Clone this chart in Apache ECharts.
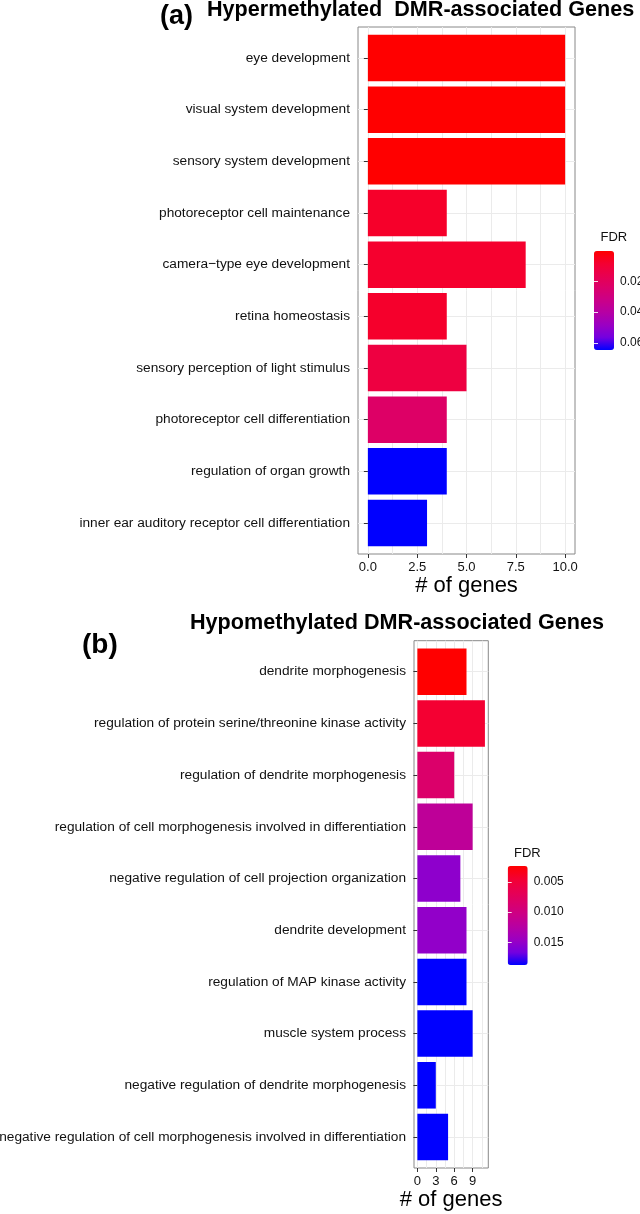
<!DOCTYPE html>
<html>
<head>
<meta charset="utf-8">
<script src="https://cdn.jsdelivr.net/npm/echarts@6/dist/echarts.min.js"></script>
<style>
html,body{margin:0;padding:0;background:#fff;}
#c{width:640px;height:1214px;}
</style>
</head>
<body>
<div id="c"></div>
<script>
// ---- data ----
const catsA = ['eye development','visual system development','sensory system development','photoreceptor cell maintenance','camera\u2212type eye development','retina homeostasis','sensory perception of light stimulus','photoreceptor cell differentiation','regulation of organ growth','inner ear auditory receptor cell differentiation'];
const countsA = [10,10,10,4,8,4,5,4,4,3];
const fdrA = [0.0003,0.0003,0.0003,0.0072,0.0078,0.0075,0.0125,0.0228,0.0646,0.0646];
const fdrRangeA = [0.0003,0.0646];
const fdrTicksA = [0.02,0.04,0.06];
const xTicksA = [0,2.5,5,7.5,10];
const xGridA = [0,1.25,2.5,3.75,5,6.25,7.5,8.75,10];

const catsB = ['dendrite morphogenesis','regulation of protein serine/threonine kinase activity','regulation of dendrite morphogenesis','regulation of cell morphogenesis involved in differentiation','negative regulation of cell projection organization','dendrite development','regulation of MAP kinase activity','muscle system process','negative regulation of dendrite morphogenesis','negative regulation of cell morphogenesis involved in differentiation'];
const countsB = [8,11,6,9,7,8,8,9,3,5];
const fdrB = [0.00238,0.0045,0.0084,0.0117,0.0153,0.0151,0.01877,0.01877,0.01877,0.01877];
const fdrRangeB = [0.00238,0.01877];
const fdrTicksB = [0.005,0.010,0.015];
const xTicksB = [0,3,6,9];
const xGridB = [0,1.5,3,4.5,6,7.5,9,10.5];

const grad = ['#FF0000','#F40031','#E80050','#DA006C','#CA0089','#B500A5','#9A00C3','#7300E0','#0000FF'];

// ---- layout ----
const FONT = 'Liberation Sans, Arial, Helvetica, sans-serif';
const TXT = '#111';
const GRIDC = '#EBEBEB';
const pA = {l:358, r:575, t:27, b:554};
const pB = {l:414, r:488.3, t:640.7, b:1168};
function inset(p){ const u=(p.b-p.t)/10.2; return {t:p.t+0.1*u, b:p.b-0.1*u}; }
const dA = inset(pA), dB = inset(pB);
const legA = {l:594, t:251, w:20, h:99};
const legB = {l:507.7, t:866, w:20, h:99};

const chart = echarts.init(document.getElementById('c'), null, {renderer:'canvas'});

function frameGrid(p){ return {left:p.l, top:p.t, width:p.r-p.l, height:p.b-p.t, show:true, borderColor:'#888', borderWidth:1, backgroundColor:'transparent', containLabel:false, outerBoundsMode:'none'}; }
function dataGrid(p,d){ return {left:p.l, top:d.t, width:p.r-p.l, height:d.b-d.t, show:false, containLabel:false, outerBoundsMode:'none'}; }
function legGrid(g){ return {left:g.l, top:g.t, width:g.w, height:g.h, show:false, containLabel:false, outerBoundsMode:'none'}; }

function mainX(gi, min, max, gridVals, labelVals, fmt, nameGap){
  return {type:'value', gridIndex:gi, min:min, max:max, position:'bottom',
    axisLine:{show:false},
    axisTick:{show:false, customValues:gridVals},
    splitLine:{show:true, lineStyle:{color:GRIDC, width:1}},
    axisLabel:{show:true, customValues:labelVals, formatter:fmt, fontSize:13, color:TXT, fontFamily:FONT, margin:7},
    name:'# of genes', nameLocation:'middle', nameGap:nameGap,
    nameTextStyle:{fontSize:22, color:'#000', fontFamily:FONT}};
}
function tickX(gi, min, max, vals){
  return {type:'value', gridIndex:gi, min:min, max:max, position:'bottom',
    axisLine:{show:false}, splitLine:{show:false}, axisLabel:{show:false},
    axisTick:{show:true, length:4, customValues:vals, lineStyle:{color:'#333'}}};
}
function hiddenX(gi,min,max){ return {type:'value', gridIndex:gi, min:min, max:max, show:false}; }
function hiddenY(gi){ return {type:'value', gridIndex:gi, min:0, max:1, show:false}; }
function catY(gi, cats){
  return {type:'category', gridIndex:gi, data:cats, inverse:true,
    axisLine:{show:false},
    axisTick:{show:true, length:4, alignWithLabel:true, lineStyle:{color:'#333'}},
    splitLine:{show:true, alignWithLabel:true, lineStyle:{color:GRIDC, width:1}},
    axisLabel:{show:true, interval:0, fontSize:13.7, color:TXT, fontFamily:FONT, margin:8}};
}
function legY(gi, range, ticks, pos, showLabel){
  return {type:'value', gridIndex:gi, min:range[0], max:range[1], inverse:true, position:pos, z:10,
    axisLine:{show:false}, splitLine:{show:false},
    axisTick:{show:true, inside:true, length:4, customValues:ticks, lineStyle:{color:'rgba(255,255,255,0.85)', width:1}},
    axisLabel:{show:showLabel, customValues:ticks, fontSize:12, color:TXT, fontFamily:FONT, margin:6,
      formatter: v => ticks[0] < 0.01 ? v.toFixed(3) : v.toFixed(2)}};
}

const option = {
  backgroundColor:'#fff',
  animation:false,
  textStyle:{fontFamily:FONT},
  title:[
    {text:'(a)', left:160, top:3, padding:0, textStyle:{fontSize:27, fontWeight:'bold', color:'#000', fontFamily:FONT}},
    {text:'Hypermethylated  DMR-associated Genes', left:207, top:-1, padding:0, textStyle:{fontSize:21.6, fontWeight:'bold', color:'#000', fontFamily:FONT}},
    {text:'(b)', left:82, top:631, padding:0, textStyle:{fontSize:28, fontWeight:'bold', color:'#000', fontFamily:FONT}},
    {text:'Hypomethylated DMR-associated Genes', left:190, top:612, padding:0, textStyle:{fontSize:21.6, fontWeight:'bold', color:'#000', fontFamily:FONT}},
    {text:'FDR', left:600.5, top:231, padding:0, textStyle:{fontSize:13, fontWeight:'normal', color:TXT, fontFamily:FONT}},
    {text:'FDR', left:514, top:846.5, padding:0, textStyle:{fontSize:13, fontWeight:'normal', color:TXT, fontFamily:FONT}}
  ],
  grid:[frameGrid(pA), dataGrid(pA,dA), frameGrid(pB), dataGrid(pB,dB), legGrid(legA), legGrid(legB)],
  xAxis:[
    mainX(0,-0.5,10.5,xGridA,xTicksA,v=>v.toFixed(1),20),
    tickX(0,-0.5,10.5,xTicksA),
    hiddenX(1,-0.5,10.5),
    mainX(2,-0.55,11.55,xGridB,xTicksB,v=>String(v),20),
    tickX(2,-0.55,11.55,xTicksB),
    hiddenX(3,-0.55,11.55),
    hiddenX(4,0,1),
    hiddenX(5,0,1)
  ],
  yAxis:[
    hiddenY(0),
    catY(1,catsA),
    hiddenY(2),
    catY(3,catsB),
    legY(4,fdrRangeA,fdrTicksA,'right',true),
    legY(4,fdrRangeA,fdrTicksA,'left',false),
    legY(5,fdrRangeB,fdrTicksB,'right',true),
    legY(5,fdrRangeB,fdrTicksB,'left',false)
  ],
  visualMap:[
    {type:'continuous', seriesIndex:0, dimension:2, min:fdrRangeA[0], max:fdrRangeA[1], inverse:true, calculable:false,
     orient:'vertical', left:legA.l, top:legA.t, itemWidth:legA.w, itemHeight:legA.h, padding:0, hoverLink:false,
     inRange:{color:grad}},
    {type:'continuous', seriesIndex:1, dimension:2, min:fdrRangeB[0], max:fdrRangeB[1], inverse:true, calculable:false,
     orient:'vertical', left:legB.l, top:legB.t, itemWidth:legB.w, itemHeight:legB.h, padding:0, hoverLink:false,
     inRange:{color:grad}}
  ],
  series:[
    {type:'bar', xAxisIndex:2, yAxisIndex:1, barCategoryGap:'10%', encode:{x:0,y:1},
     data: countsA.map((c,i)=>[c, catsA[i], fdrA[i]])},
    {type:'bar', xAxisIndex:5, yAxisIndex:3, barCategoryGap:'10%', encode:{x:0,y:1},
     data: countsB.map((c,i)=>[c, catsB[i], fdrB[i]])}
  ]
};
chart.setOption(option);
</script>
</body>
</html>
